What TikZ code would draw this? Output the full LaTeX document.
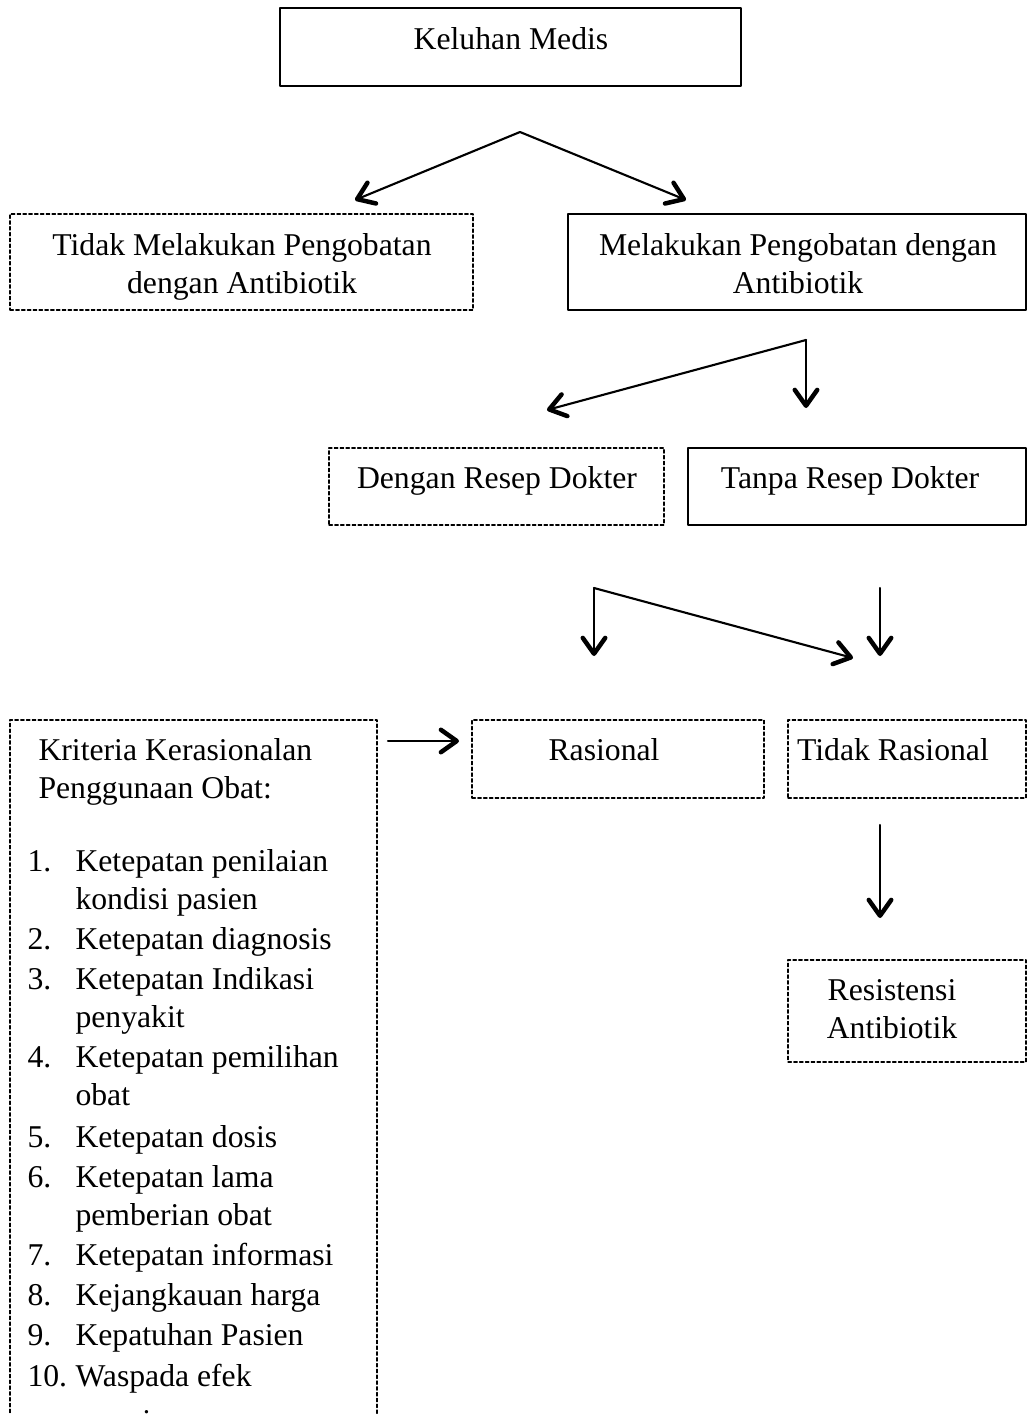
\documentclass[tikz,border=0pt]{standalone}
\usepackage{fontspec}
\setmainfont{Liberation Serif}
\usetikzlibrary{arrows.meta,fit}
\begin{document}
\begin{tikzpicture}[x=0.3785pt, y=-0.3785pt, font=\fontsize{12}{14.4}\selectfont, line join=round, line cap=round,
	>={Straight Barb[length=6pt,width=8.5pt,line width=1.7pt,round]},
	kotak/.style={draw, line width=0.5pt, inner sep=0pt},
	kotakputus/.style={draw, line width=0.45pt, dash pattern=on 1.3pt off 0.9pt, inner sep=0pt},
	teks/.style={anchor=base, inner sep=0pt},
	panah/.style={->, line width=0.8pt}]
		\useasboundingbox (0,0) rectangle (1028,1414);
		\clip (0,0) rectangle (1028,1414);
		% Kotak
		\node[kotak, fit={(280,8) (741,86)}] (keluhan) {};
		\node[kotakputus, fit={(10,214) (473,310)}] (tidakobat) {};
		\node[kotak, fit={(568,214) (1026,310)}] (obat) {};
		\node[kotakputus, fit={(329,448) (664,525)}] (denganresep) {};
		\node[kotak, fit={(688,448) (1026,525)}] (tanparesep) {};
		\node[kotakputus, fit={(10,720) (377,1430)}] (kriteria) {};
		\node[kotakputus, fit={(472,720) (764,798)}] (rasional) {};
		\node[kotakputus, fit={(788,720) (1026,798)}] (tidakrasional) {};
		\node[kotakputus, fit={(788,960) (1026,1062)}] (resistensi) {};
		% Teks
		\node[teks] (keluhan-t) at (511,50) {Keluhan Medis};
		\node[teks] (tidakobat-t1) at (242,255) {Tidak Melakukan Pengobatan};
		\node[teks] (tidakobat-t2) at (242,293) {dengan Antibiotik};
		\node[teks] (obat-t1) at (798,255) {Melakukan Pengobatan dengan};
		\node[teks] (obat-t2) at (798,293) {Antibiotik};
		\node[teks] (denganresep-t) at (497,488) {Dengan Resep Dokter};
		\node[teks] (tanparesep-t) at (850,488) {Tanpa Resep Dokter};
		\node[teks] (rasional-t) at (604,760) {Rasional};
		\node[teks] (tidakrasional-t) at (893,760) {Tidak Rasional};
		\node[teks] (resistensi-t1) at (892,1000) {Resistensi};
		\node[teks] (resistensi-t2) at (892,1038) {Antibiotik};
		\node[teks, anchor=base west] (kriteria-t1) at (38,760) {Kriteria Kerasionalan};
		\node[teks, anchor=base west] (kriteria-t2) at (38,798) {Penggunaan Obat:};
		\foreach \n/\t/\y [count=\i] in {1./Ketepatan penilaian/871, /kondisi pasien/909,
			2./Ketepatan diagnosis/949, 3./Ketepatan Indikasi/989, /penyakit/1027,
			4./Ketepatan pemilihan/1067, /obat/1105, 5./Ketepatan dosis/1147,
			6./Ketepatan lama/1187, /pemberian obat/1225, 7./Ketepatan informasi/1265,
			8./Kejangkauan harga/1305, 9./Kepatuhan Pasien/1345, 10./Waspada efek/1386,
			/samping/1431}{
			\node[teks, anchor=base west] (no-\i) at (27,\y) {\n};
			\node[teks, anchor=base west] (butir-\i) at (75,\y) {\t};
		}
		% Panah
		\coordinate (a0) at (520,132); \coordinate (a1) at (355,200); \coordinate (a2) at (686,200);
		\coordinate (b0) at (806,340); \coordinate (b1) at (547,410); \coordinate (b2) at (806,408);
		\coordinate (c0) at (594,588); \coordinate (c1) at (594,656); \coordinate (c2) at (853,658);
		\coordinate (d0) at (880,588); \coordinate (d1) at (880,656);
		\coordinate (e0) at (388,741); \coordinate (e1) at (459,741);
		\coordinate (f0) at (880,825); \coordinate (f1) at (880,918);
		\draw[panah] (a0)--(a1); \draw[panah] (a0)--(a2);
		\draw[panah] (b0)--(b1); \draw[panah] (b0)--(b2);
		\draw[panah] (c0)--(c1); \draw[panah] (c0)--(c2);
		\draw[panah] (d0)--(d1);
		\draw[panah] (e0)--(e1);
		\draw[panah] (f0)--(f1);
\end{tikzpicture}
\end{document}
